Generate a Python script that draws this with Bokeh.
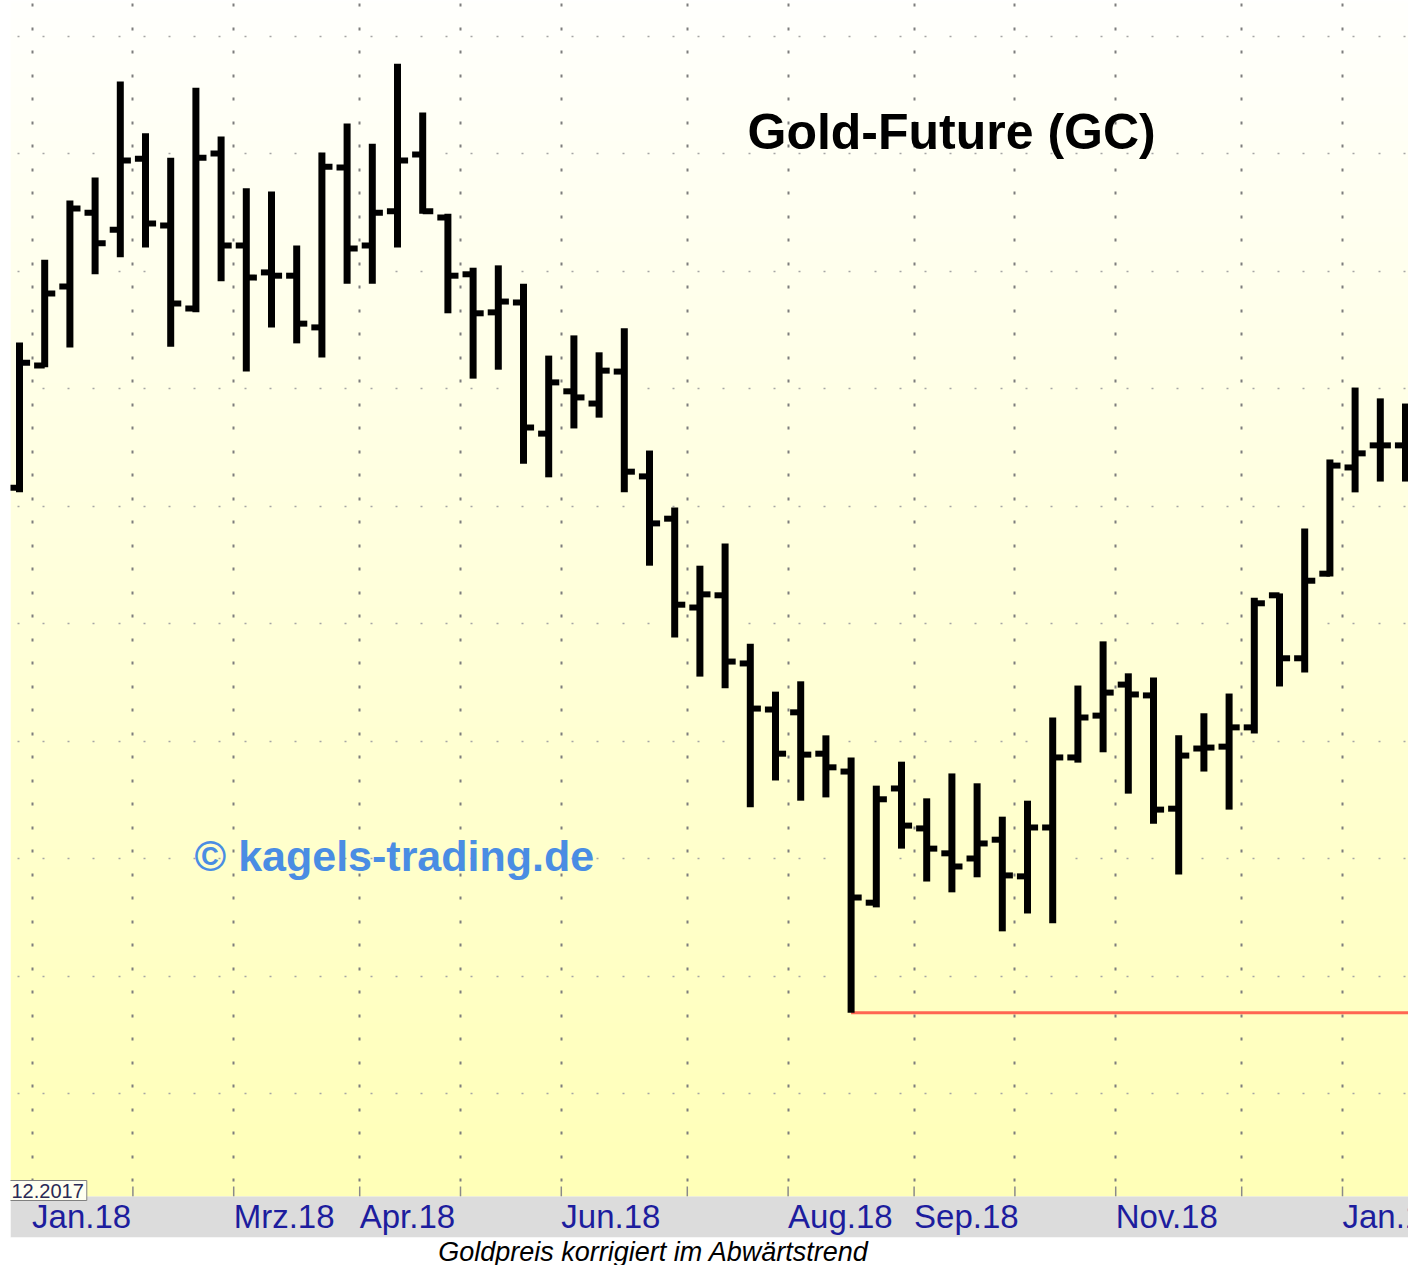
import numpy as np
import pandas as pd
from bokeh.plotting import figure
from bokeh.models import ColumnDataSource, FixedTicker, BoxAnnotation, Label
from bokeh.transform import dodge
from bokeh.embed import file_html
from bokeh.resources import INLINE

# ---------------- data (weekly OHLC, Gold-Future GC) ----------------
week_dates = pd.date_range("2017-12-29", periods=56, freq="W-FRI")

open_ = [1278.9, 1304.9, 1321.7, 1337.4, 1333.8, 1348.9, 1334.7, 1317.0, 1350.0, 1330.4,
         1324.7, 1324.0, 1313.0, 1347.0, 1330.4, 1337.7, 1349.8, 1336.4, 1324.3, 1316.2,
         1318.3, 1290.4, 1299.4, 1296.8, 1303.6, 1281.3, 1272.3, 1253.4, 1256.0, 1241.5,
         1231.7, 1231.1, 1222.3, 1218.5, 1190.6, 1214.9, 1206.4, 1201.1, 1200.0, 1204.0,
         1196.2, 1206.6, 1221.5, 1230.4, 1237.0, 1234.7, 1210.6, 1223.4, 1223.8, 1227.9,
         1256.0, 1242.6, 1260.6, 1283.2, 1287.9, 1287.9]
high = [1309.8, 1327.4, 1340.0, 1344.9, 1365.3, 1354.3, 1349.1, 1364.0, 1353.6, 1342.6,
        1341.9, 1330.4, 1350.2, 1356.4, 1352.1, 1369.1, 1358.7, 1337.2, 1325.7, 1326.2,
        1322.3, 1307.0, 1311.3, 1307.7, 1312.8, 1286.8, 1274.7, 1262.3, 1267.0, 1245.7,
        1235.5, 1237.7, 1226.2, 1221.5, 1215.5, 1220.6, 1212.8, 1218.1, 1216.0, 1208.9,
        1212.3, 1230.0, 1236.8, 1246.2, 1239.4, 1238.5, 1226.2, 1230.9, 1235.1, 1255.5,
        1256.4, 1270.2, 1284.9, 1300.2, 1297.9, 1296.8]
low = [1277.9, 1304.5, 1308.7, 1324.3, 1327.9, 1330.0, 1308.9, 1316.2, 1322.8, 1303.6,
       1313.0, 1309.6, 1306.6, 1322.3, 1322.3, 1330.0, 1337.2, 1316.0, 1302.1, 1304.0,
       1284.0, 1281.1, 1291.5, 1293.8, 1277.9, 1262.3, 1247.0, 1238.7, 1236.2, 1210.9,
       1216.6, 1212.3, 1213.0, 1167.2, 1189.6, 1202.1, 1195.1, 1192.8, 1196.0, 1184.5,
       1188.3, 1186.2, 1220.4, 1222.6, 1213.8, 1207.4, 1196.6, 1218.5, 1210.4, 1226.6,
       1236.6, 1239.6, 1260.0, 1277.9, 1280.2, 1280.2]
close = [1305.5, 1320.2, 1338.3, 1330.9, 1348.5, 1335.1, 1318.1, 1349.1, 1330.4, 1323.6,
         1324.0, 1313.8, 1347.2, 1329.8, 1337.4, 1348.5, 1337.7, 1324.0, 1316.0, 1318.5,
         1291.7, 1301.3, 1298.1, 1303.8, 1282.3, 1271.3, 1254.0, 1256.2, 1241.9, 1231.9,
         1222.3, 1222.1, 1219.4, 1191.7, 1212.6, 1207.0, 1202.1, 1198.3, 1203.2, 1196.4,
         1206.6, 1221.5, 1230.0, 1235.3, 1234.9, 1210.4, 1221.9, 1223.6, 1227.9, 1254.3,
         1242.6, 1259.1, 1283.6, 1286.2, 1287.9, 1290.0]

price_grid = [1150, 1175, 1200, 1225, 1250, 1275, 1300, 1325, 1350, 1375]
month_labels = {"2018-01": "Jan.18", "2018-03": "Mrz.18", "2018-04": "Apr.18",
                "2018-06": "Jun.18", "2018-08": "Aug.18", "2018-09": "Sep.18",
                "2018-11": "Nov.18", "2019-01": "Jan.19"}
title_text = "Gold-Future (GC)"
watermark_text = "\u00a9 kagels-trading.de"
caption_text = "Goldpreis korrigiert im Abw\u00e4rtstrend"
date_box_text = "12.2017"

# ---------------- layout helpers (pixel -> data) ----------------
W, H = 1408, 1265
LEFT = 10
BAR0_PX, BAR_PX = 19.0, 25.2
PX_PER_USD = 4.7
PRICE_TOP = 1350 + 153 / PX_PER_USD


def xd(px):
    return (px - BAR0_PX) / BAR_PX


def yd(py):
    return PRICE_TOP - py / PX_PER_USD


SANS = "'Liberation Sans', Arial, sans-serif"

n = len(week_dates)
idx = list(range(n))

# month boundaries: half a bar before the first bar of each month
grid_x = []
tick_lbl = []
for i in range(1, n):
    if week_dates[i].month != week_dates[i - 1].month:
        grid_x.append(i - 0.5)
        tick_lbl.append(month_labels.get(week_dates[i].strftime("%Y-%m")))

p = figure(width=W, height=H, x_range=(xd(LEFT), xd(W)), y_range=(yd(H), yd(0)),
           x_axis_location=None, y_axis_location=None, title=None,
           toolbar_location=None, output_backend="svg", min_border=0)
p.min_border_left = LEFT
p.outline_line_color = None
p.background_fill_color = "white"
p.border_fill_color = "white"

# background gradient (white -> pale yellow)
rows = 400
t = np.linspace(0, 1, rows)[:, None]  # 0 bottom, 1 top
img = np.empty((rows, 1), dtype=np.uint32)
view = img.view(dtype=np.uint8).reshape((rows, 1, 4))
view[:, :, 0] = 255
view[:, :, 1] = 255
view[:, :, 2] = (184 + (253 - 184) * t).astype(np.uint8)
view[:, :, 3] = 255
p.image_rgba(image=[img], x=xd(LEFT), y=yd(1196), dw=xd(W) - xd(LEFT),
             dh=yd(0) - yd(1196), level="image")

# grids
p.xgrid.ticker = FixedTicker(ticks=grid_x)
p.xgrid.grid_line_color = "#7d7d7d"
p.xgrid.grid_line_width = 2
p.xgrid.grid_line_dash = "3 20 3 21"
p.xgrid.grid_line_dash_offset = 10
p.ygrid.ticker = FixedTicker(ticks=price_grid)
p.ygrid.grid_line_color = "#a5a5a5"
p.ygrid.grid_line_width = 1.5
p.ygrid.grid_line_dash = "2 23 2 23 2 23 2 23 2 24"
p.ygrid.grid_line_dash_offset = 18

# support line at the yearly low
i_min = int(np.argmin(low))
p.segment(x0=[i_min], y0=[low[i_min]], x1=[xd(W) + 1], y1=[low[i_min]],
          line_color="#ff6652", line_width=3)

# OHLC bars
src = ColumnDataSource(dict(x=idx, o=open_, h=high, l=low, c=close))
TICK = 0.42
p.segment(x0="x", y0="l", x1="x", y1="h", source=src, line_color="black",
          line_width=7, line_cap="butt")
p.segment(x0=dodge("x", -TICK), y0="o", x1="x", y1="o", source=src,
          line_color="black", line_width=6, line_cap="butt")
p.segment(x0="x", y0="c", x1=dodge("x", TICK), y1="c", source=src,
          line_color="black", line_width=6, line_cap="butt")

# axis strip and caption area
p.add_layout(BoxAnnotation(top=yd(1196), bottom=yd(1237), fill_color="#dcdcdc",
                           fill_alpha=1, line_color=None))
p.add_layout(BoxAnnotation(top=yd(1237), fill_color="white", fill_alpha=1,
                           line_color=None))

# small tick marks at month boundaries
p.segment(x0=grid_x, y0=[yd(1186)] * len(grid_x), x1=grid_x,
          y1=[yd(1196)] * len(grid_x), line_color="#8a8a8a", line_width=1.5)

for gx, lbl in zip(grid_x, tick_lbl):
    if lbl:
        p.add_layout(Label(x=gx, y=yd(1216), text=lbl, text_align="left",
                           text_baseline="middle", text_font=SANS,
                           text_font_size="33px", text_color="#1d1d9e"))

p.add_layout(Label(x=xd(8), y=yd(1190), text=date_box_text, text_align="left",
                   text_baseline="middle", text_font=SANS, text_font_size="20px",
                   text_color="#2a2a55", background_fill_color="#fffff0",
                   border_line_color="#808080", border_line_width=1, padding=3))

p.add_layout(Label(x=xd(747), y=yd(131), text=title_text, text_align="left",
                   text_baseline="middle", text_font=SANS, text_font_size="50px",
                   text_font_style="bold", text_color="black"))

p.add_layout(Label(x=xd(194), y=yd(855), text=watermark_text, text_align="left",
                   text_baseline="middle", text_font=SANS, text_font_size="43px",
                   text_font_style="bold", text_color="#4a8de3"))

p.add_layout(Label(x=xd(653), y=yd(1251), text=caption_text, text_align="center",
                   text_baseline="middle", text_font=SANS, text_font_size="27px",
                   text_font_style="italic", text_color="black"))

open("out.html", "w").write(file_html(p, INLINE))
